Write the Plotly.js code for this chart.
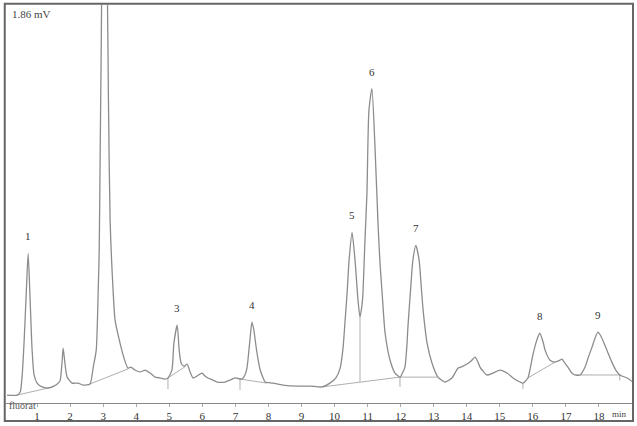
<!DOCTYPE html>
<html>
<head>
<meta charset="utf-8">
<script src="https://cdn.plot.ly/plotly-3.0.1.min.js"></script>
<style>
  html, body { margin: 0; padding: 0; background: #fff; }
  #chrom { width: 637px; height: 426px; }
</style>
</head>
<body>
<div id="chrom"></div>
<script>
// retention time (min) and detector signal (mV)
const time = [0.09, 0.40, 0.49, 0.55, 0.61, 0.67, 0.73, 0.79, 0.85, 0.91, 1.00, 1.15, 1.33, 1.51, 1.64, 1.70,
  1.76, 1.79, 1.85, 1.91, 2.06, 2.24, 2.39, 2.60, 2.70, 2.79, 2.85, 2.88, 2.91, 2.94, 2.97, 3.03, 3.09, 3.13,
  3.16, 3.21, 3.30, 3.36, 3.51, 3.63, 3.75, 3.84, 3.96, 4.12, 4.27, 4.42, 4.57, 4.72, 4.87, 4.96, 5.08, 5.14,
  5.24, 5.30, 5.36, 5.45, 5.54, 5.63, 5.72, 5.84, 5.99, 6.08, 6.17, 6.32, 6.45, 6.69, 6.84, 6.99, 7.20, 7.29,
  7.35, 7.41, 7.44, 7.50, 7.56, 7.62, 7.69, 7.75, 7.84, 7.90, 8.14, 8.44, 8.87, 9.26, 9.62, 9.86, 10.04, 10.17,
  10.26, 10.32, 10.38, 10.44, 10.53, 10.62, 10.71, 10.77, 10.83, 10.86, 10.92, 10.98, 11.04, 11.13, 11.22,
  11.32, 11.38, 11.44, 11.53, 11.68, 11.83, 11.98, 12.07, 12.13, 12.19, 12.22, 12.31, 12.37, 12.46, 12.56,
  12.62, 12.68, 12.80, 12.95, 13.13, 13.34, 13.55, 13.74, 13.89, 14.01, 14.13, 14.25, 14.34, 14.40, 14.61,
  14.79, 15.01, 15.22, 15.40, 15.61, 15.70, 15.85, 15.94, 16.00, 16.12, 16.21, 16.31, 16.37, 16.52, 16.67,
  16.82, 16.88, 16.97, 17.06, 17.18, 17.27, 17.43, 17.58, 17.67, 17.79, 17.88, 17.97, 18.06, 18.18, 18.30,
  18.39, 18.51, 18.63, 18.85, 19.03]
const signal = [0.037, 0.037, 0.051, 0.131, 0.294, 0.503, 0.699, 0.480, 0.247, 0.131, 0.093, 0.075, 0.070, 0.079, 0.093, 0.107,
  0.200, 0.256, 0.177, 0.121, 0.093, 0.093, 0.084, 0.089, 0.168, 0.247, 0.527, 0.713, 1.179, 1.646, 2.159, 2.578, 2.159, 1.879,
  1.413, 0.853, 0.527, 0.387, 0.280, 0.210, 0.163, 0.168, 0.154, 0.145, 0.154, 0.140, 0.121, 0.117, 0.112, 0.117, 0.154, 0.280,
  0.364, 0.247, 0.186, 0.172, 0.182, 0.145, 0.117, 0.126, 0.140, 0.126, 0.117, 0.107, 0.098, 0.098, 0.107, 0.117, 0.112, 0.131,
  0.163, 0.247, 0.294, 0.378, 0.340, 0.270, 0.200, 0.154, 0.117, 0.098, 0.093, 0.084, 0.079, 0.079, 0.075, 0.093, 0.117, 0.163,
  0.261, 0.387, 0.513, 0.667, 0.797, 0.667, 0.480, 0.401, 0.457, 0.513, 0.760, 0.979, 1.366, 1.469, 1.212,
  0.821, 0.643, 0.513, 0.326, 0.200, 0.140, 0.121, 0.145, 0.168, 0.270, 0.354, 0.550, 0.667, 0.737, 0.667,
  0.550, 0.434, 0.280, 0.186, 0.121, 0.098, 0.117, 0.163, 0.172, 0.182, 0.196, 0.214, 0.191, 0.168, 0.131,
  0.140, 0.154, 0.140, 0.117, 0.098, 0.093, 0.117, 0.177, 0.224, 0.294, 0.326, 0.285, 0.247, 0.200, 0.191,
  0.200, 0.205, 0.186, 0.168, 0.140, 0.131, 0.131, 0.168, 0.210, 0.261, 0.303, 0.331, 0.312, 0.270, 0.224,
  0.191, 0.154, 0.131, 0.117, 0.098]

// integration baselines and drop lines (null = break)
const baseTime = [0.40, 1.33, null, 2.60, 3.75, null, 4.96, 5.50, null, 7.14, 7.95, null,
  9.62, 11.98, 13.13, null, 10.77, 10.77, null, 15.85, 16.67, null, 17.30, 18.67, null,
  4.96, 4.96, null, 7.14, 7.14, null, 11.98, 11.98, null, 15.70, 15.70, null, 18.63, 18.63]
const baseSignal = [0.037, 0.070, null, 0.089, 0.159, null, 0.117, 0.172, null, 0.112, 0.093, null,
  0.075, 0.121, 0.121, null, 0.401, 0.098, null, 0.117, 0.191, null, 0.131, 0.131, null,
  0.117, 0.065, null, 0.112, 0.061, null, 0.121, 0.075, null, 0.093, 0.065, null, 0.131, 0.105]

const peakNames = ['1', '3', '4', '5', '6', '7', '8', '9']
const peakTimes = [0.73, 5.24, 7.50, 10.53, 11.13, 12.46, 16.21, 17.97]
const peakHeights = [0.699, 0.364, 0.378, 0.797, 1.469, 0.737, 0.326, 0.331]

const tickVals = [1, 2, 3, 4, 5, 6, 7, 8, 9, 10, 11, 12, 13, 14, 15, 16, 17, 18]

const serif = 'Liberation Serif, Times New Roman, serif'

const traces = [
  {
    type: 'scatter', mode: 'lines',
    x: baseTime, y: baseSignal,
    line: {color: 'rgb(175,175,175)', width: 1},
    connectgaps: false, hoverinfo: 'skip'
  },
  {
    type: 'scatter', mode: 'lines',
    x: time, y: signal,
    line: {color: 'rgb(140,140,140)', width: 1.3, shape: 'spline', smoothing: 0.6}
  }
]

const annotations = peakNames.map((name, i) => ({
  x: peakTimes[i], y: peakHeights[i],
  text: name, showarrow: false, yshift: 17,
  font: {family: serif, size: 11, color: '#333'}
}))

annotations.push(
  {xref: 'paper', yref: 'paper', x: 0.007, y: 0.978, xanchor: 'left', yanchor: 'middle',
   text: '1.86 mV', showarrow: false, font: {family: serif, size: 11, color: '#444'}},
  {xref: 'paper', yref: 'paper', x: 0.002, y: -0.006, xanchor: 'left', yanchor: 'middle',
   text: 'fluorat', showarrow: false, font: {family: serif, size: 10, color: '#555'}},
  {xref: 'paper', yref: 'paper', x: 0.978, y: -0.027, xanchor: 'center', yanchor: 'middle',
   text: 'min', showarrow: false, font: {family: serif, size: 9, color: '#444'}}
)

const layout = {
  width: 637, height: 426,
  margin: {l: 6, r: 4, t: 5, b: 23},
  paper_bgcolor: '#fff', plot_bgcolor: '#fff',
  showlegend: false,
  xaxis: {
    range: [0.06, 19.03],
    tickvals: tickVals,
    ticks: 'outside', ticklen: 3, tickcolor: '#aaa',
    tickfont: {family: serif, size: 11, color: '#333'},
    showline: true, linecolor: '#888', linewidth: 1,
    showgrid: false, zeroline: false
  },
  yaxis: {
    range: [0, 1.86],
    showticklabels: false, ticks: '',
    showgrid: false, zeroline: false, showline: false
  },
  shapes: [
    {type: 'rect', xref: 'paper', yref: 'paper',
     x0: -0.002, x1: 1.0, y0: -0.045, y1: 1.003,
     line: {color: '#666', width: 2}}
  ],
  annotations: annotations
}

Plotly.newPlot('chrom', traces, layout, {staticPlot: true})
</script>
</body>
</html>
